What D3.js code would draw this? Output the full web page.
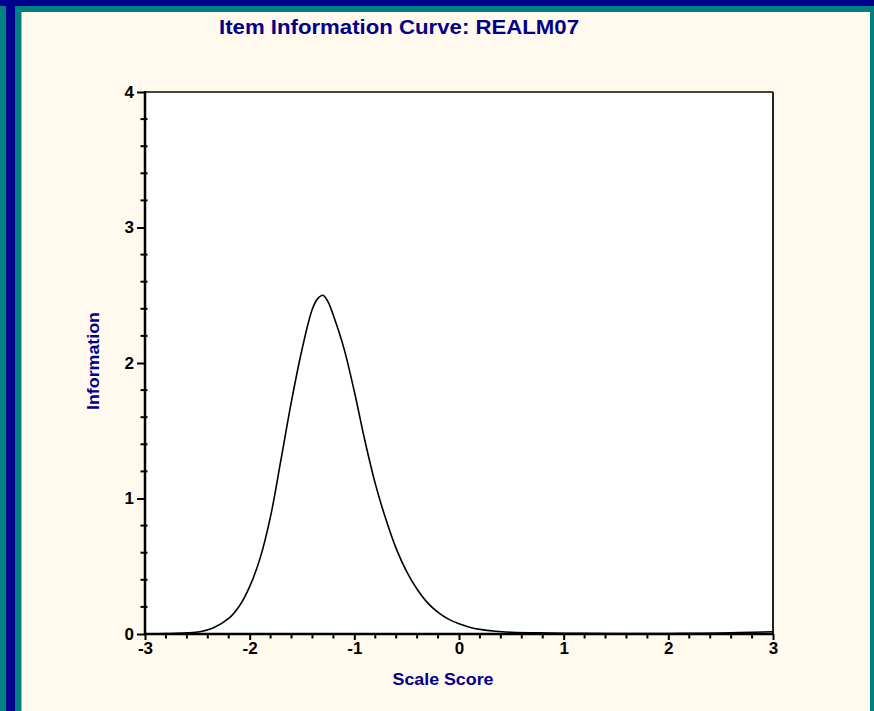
<!DOCTYPE html>
<html><head><meta charset="utf-8">
<script src="https://cdn.jsdelivr.net/npm/d3@7"></script>
<style>html,body{margin:0;padding:0;background:#FFF9EE;}svg{display:block;}</style>
</head><body>
<svg id="chart" width="874" height="711"></svg>
<script>
const chartTitle = "Item Information Curve: REALM07";
const xLabel = "Scale Score";
const yLabel = "Information";
const xTicks = [-3, -2, -1, 0, 1, 2, 3];
const yTicks = [0, 1, 2, 3, 4];
const theta = [-3.0, -2.8, -2.6, -2.475, -2.35, -2.2, -2.1, -2.0, -1.9, -1.8, -1.7, -1.6, -1.5, -1.4, -1.35, -1.3, -1.25, -1.2, -1.1, -1.0, -0.9, -0.8, -0.7, -0.6, -0.5, -0.4, -0.3, -0.2, -0.1, 0.0, 0.1, 0.2, 0.35, 0.5, 0.75, 1.2, 1.6, 2.0, 2.3, 2.68, 3.0];
const info = [0.0, 0.003, 0.008, 0.017, 0.045, 0.115, 0.205, 0.35, 0.56, 0.87, 1.29, 1.72, 2.10, 2.40, 2.475, 2.50, 2.45, 2.35, 2.11, 1.79, 1.43, 1.11, 0.85, 0.63, 0.46, 0.33, 0.23, 0.16, 0.11, 0.075, 0.05, 0.034, 0.02, 0.013, 0.008, 0.005, 0.004, 0.004, 0.005, 0.01, 0.017];

const svg = d3.select("#chart");
const W = 874, H = 711;
const navy = "#00008F", teal = "#008080", cream = "#FFF9EE", titleCol = "#000088";
const FONT = "'Liberation Sans', Arial, sans-serif";

// frame
svg.append("rect").attr("x",0).attr("y",0).attr("width",W).attr("height",H).attr("fill",cream);
svg.append("rect").attr("x",0).attr("y",0).attr("width",W).attr("height",12).attr("fill",teal);
svg.append("rect").attr("x",0).attr("y",0).attr("width",22).attr("height",H).attr("fill",teal);
svg.append("rect").attr("x",870).attr("y",0).attr("width",4).attr("height",H).attr("fill",teal);
svg.append("rect").attr("x",6).attr("y",0).attr("width",9).attr("height",H).attr("fill",navy);
svg.append("rect").attr("x",0).attr("y",0).attr("width",W).attr("height",6).attr("fill",navy);
svg.append("rect").attr("x",21).attr("y",12).attr("width",1).attr("height",H-12).attr("fill","#7fbfbf");

const x = d3.scaleLinear().domain([-3,3]).range([145,773]);
const y = d3.scaleLinear().domain([0,4]).range([634,92]);

// plot area
svg.append("rect").attr("x",x(-3)).attr("y",y(4)).attr("width",x(3)-x(-3)).attr("height",y(0)-y(4)).attr("fill","#fff");

// top & right border
svg.append("line").attr("x1",x(-3)).attr("x2",x(3)).attr("y1",y(4)).attr("y2",y(4)).attr("stroke","#444").attr("stroke-width",2);
svg.append("line").attr("x1",x(3)).attr("x2",x(3)).attr("y1",y(4)).attr("y2",y(0)).attr("stroke","#222").attr("stroke-width",2);

// curve
const pts = theta.map((t,i)=>[t, info[i]]);
svg.append("path").datum(pts)
  .attr("d", d3.line().x(d=>x(d[0])).y(d=>y(d[1])).curve(d3.curveCatmullRom.alpha(0.5)))
  .attr("fill","none").attr("stroke","#000").attr("stroke-width",1.6);

// minor ticks
const g = svg.append("g");
const xMinor = d3.range(-3, 3.0001, 0.2).map(v=>+v.toFixed(2)).filter(v=>Math.abs(v-Math.round(v))>1e-6);
g.selectAll(".xm").data(xMinor).enter().append("line")
  .attr("x1",d=>x(d)).attr("x2",d=>x(d)).attr("y1",y(0)).attr("y2",y(0)+4.5)
  .attr("stroke","#000").attr("stroke-width",2);
const yMinor = d3.range(0, 4.0001, 0.2).map(v=>+v.toFixed(2)).filter(v=>Math.abs(v-Math.round(v))>1e-6);
g.selectAll(".ym").data(yMinor).enter().append("line")
  .attr("x1",x(-3)-4.5).attr("x2",x(-3)+2.5).attr("y1",d=>y(d)).attr("y2",d=>y(d))
  .attr("stroke","#000").attr("stroke-width",2);

// axes
const fmt = d => String(d);
const xAxis = d3.axisBottom(x).tickValues(xTicks).tickSize(6).tickPadding(2).tickFormat(fmt);
const yAxis = d3.axisLeft(y).tickValues(yTicks).tickSize(8).tickPadding(3).tickFormat(fmt);
const gx = svg.append("g").attr("transform",`translate(0,${y(0)})`).call(xAxis);
const gy = svg.append("g").attr("transform",`translate(${x(-3)},0)`).call(yAxis);
[gx,gy].forEach(a=>{
  a.attr("font-size",null).attr("font-family",null);
  a.select(".domain").attr("stroke","#000").attr("stroke-width",2.5);
  a.selectAll(".tick line").attr("stroke","#000").attr("stroke-width",2);
  a.selectAll(".tick text").attr("fill","#000").attr("font-family",FONT).attr("font-weight","bold").attr("font-size",17)
    .style("font-size","17px");
});
gx.select(".domain").attr("d",`M${x(-3)-1},0H${x(3)+1}`);
gy.select(".domain").attr("d",`M0,${y(0)+1}V${y(4)-1}`);

// title and labels
svg.append("text").attr("x",399).attr("y",34).attr("text-anchor","middle")
  .attr("textLength",360).attr("lengthAdjust","spacingAndGlyphs")
  .style("font-family",FONT).style("font-weight","bold").style("font-size","20px")
  .attr("fill",titleCol).text(chartTitle);
svg.append("text").attr("x",443).attr("y",685).attr("text-anchor","middle")
  .attr("textLength",101).attr("lengthAdjust","spacingAndGlyphs")
  .style("font-family",FONT).style("font-weight","bold").style("font-size","17px")
  .attr("fill",titleCol).text(xLabel);
svg.append("text").attr("transform","translate(99,361) rotate(-90)").attr("text-anchor","middle")
  .attr("textLength",98).attr("lengthAdjust","spacingAndGlyphs")
  .style("font-family",FONT).style("font-weight","bold").style("font-size","17px")
  .attr("fill",titleCol).text(yLabel);
</script>
</body></html>
